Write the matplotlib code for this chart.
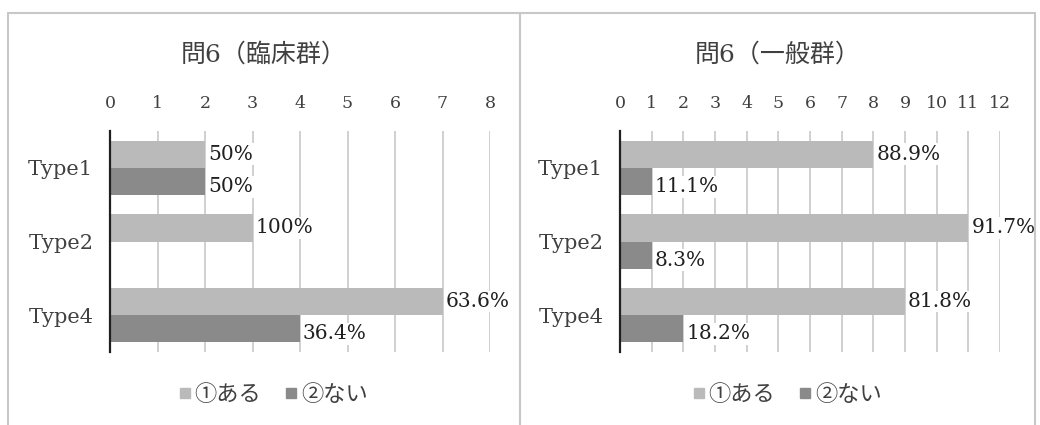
import matplotlib
matplotlib.use("Agg")
import matplotlib.pyplot as plt
from matplotlib.patches import Rectangle
from matplotlib.lines import Line2D
import numpy as np

plt.rcParams['font.family'] = ['DejaVu Serif', 'Noto Sans CJK JP']

categories = ["Type1", "Type2", "Type4"]
series_names = ["①ある", "②ない"]

# 臨床群
clinical_aru = [2, 3, 7]
clinical_nai = [2, 0, 4]
clinical_aru_pct = ["50%", "100%", "63.6%"]
clinical_nai_pct = ["50%", "", "36.4%"]

# 一般群
general_aru = [8, 11, 9]
general_nai = [1, 1, 2]
general_aru_pct = ["88.9%", "91.7%", "81.8%"]
general_nai_pct = ["11.1%", "8.3%", "18.2%"]

titles = ["問6（臨床群）", "問6（一般群）"]
xmax = [8, 12]

color_aru = "#bababa"
color_nai = "#8a8a8a"
grid_color = "#c8c8c8"
text_color = "#404040"

fig = plt.figure(figsize=(10.4, 4.25), dpi=100)

# panel borders
for x0, x1 in [(8, 520), (520, 1035)]:
    fig.patches.append(Rectangle((x0 / 1040, -0.01), (x1 - x0) / 1040, (425 - 13) / 425 + 0.01,
                                 transform=fig.transFigure, fill=False,
                                 edgecolor="#c8c8c8", linewidth=1.5))

panels = [
    (clinical_aru, clinical_nai, clinical_aru_pct, clinical_nai_pct, 110, 264),
    (general_aru, general_nai, general_aru_pct, general_nai_pct, 620, 778),
]

bar_h = 0.37
y = np.arange(len(categories))
label_kw = dict(ha="left", fontsize=14.5, color="#202020", zorder=3, clip_on=False,
                bbox=dict(facecolor="white", edgecolor="none", pad=1))

for i, (aru, nai, aru_pct, nai_pct, left_px, center_px) in enumerate(panels):
    ax = fig.add_axes([left_px / 1040, (425 - 352) / 425, 380 / 1040, 221 / 425])
    ax.barh(y - bar_h / 2, aru, height=bar_h, color=color_aru, zorder=2)
    ax.barh(y + bar_h / 2, nai, height=bar_h, color=color_nai, zorder=2)
    off = 3 * xmax[i] / 380
    for yy, v, t in zip(y - bar_h / 2, aru, aru_pct):
        if t:
            ax.text(v + off, yy, t, va="center", **label_kw)
    for yy, v, t in zip(y + bar_h / 2, nai, nai_pct):
        if t:
            ax.text(v + off, yy + 0.07, t, va="center", **label_kw)
    ax.set_xlim(0, xmax[i])
    ax.set_ylim(2.5, -0.5)
    ax.set_xticks(range(xmax[i] + 1))
    ax.xaxis.tick_top()
    ax.tick_params(axis="x", length=0, pad=14, labelsize=12.5, labelcolor=text_color)
    ax.set_yticks(y)
    ax.set_yticklabels(categories, fontsize=15, color=text_color)
    ax.tick_params(axis="y", length=0, pad=12)
    ax.grid(axis="x", color=grid_color, linewidth=1.2, zorder=0)
    for s in ["top", "right", "bottom"]:
        ax.spines[s].set_visible(False)
    ax.spines["left"].set_color("#202020")
    ax.spines["left"].set_linewidth(1.6)
    ax.spines["left"].set_zorder(4)

    fig.text(center_px / 1040, 1 - 55 / 425, titles[i], ha="center", va="center",
             fontsize=18, color=text_color)

    handles = [Line2D([], [], marker="s", linestyle="none", markersize=6.5,
                      markerfacecolor=c, markeredgecolor=c, label=n)
               for c, n in zip([color_aru, color_nai], series_names)]
    fig.legend(handles=handles, loc="center", bbox_to_anchor=(center_px / 1040 + 0.004, 1 - 395 / 425),
               ncol=2, frameon=False, fontsize=16, handletextpad=-0.3, columnspacing=0.6,
               handlelength=1.5, labelcolor=text_color)

fig.savefig("out.png", dpi=100, facecolor="white")
